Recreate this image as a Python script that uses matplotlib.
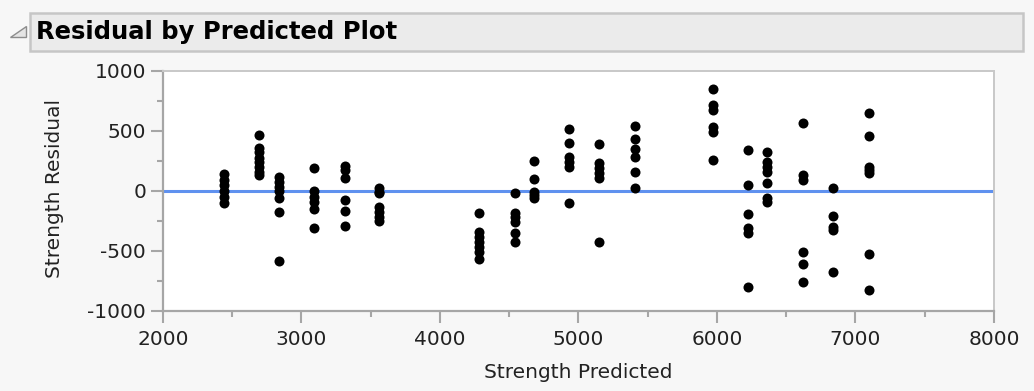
import matplotlib
matplotlib.use('Agg')
import matplotlib.pyplot as plt
from matplotlib.patches import Rectangle, Polygon
from matplotlib.ticker import MultipleLocator

plt.rcParams['font.family'] = ['DejaVu Sans']
plt.rcParams['axes.unicode_minus'] = False

# predicted strength levels and the residuals observed at each level
pred_levels = [2442, 2690, 2834, 3087, 3316, 3563, 4283, 4538, 4680,
               4933, 5151, 5409, 5970, 6227, 6364, 6619, 6840, 7097]
resid_groups = [
    [140, 92, 50, 0, -47, -97],
    [467, 356, 328, 272, 244, 203, 161, 133],
    [119, 78, 36, 0, -61, -178, -581],
    [194, 0, -47, -89, -153, -306],
    [208, 175, 106, -75, -167, -292],
    [22, -6, -19, -131, -172, -214, -250],
    [-181, -339, -381, -422, -464, -506, -569],
    [-14, -186, -214, -256, -347, -422],
    [253, 97, -6, -33, -61],
    [514, 403, 286, 240, 203, -103],
    [392, 231, 189, 147, 106, -428],
    [542, 431, 347, 286, 161, 22],
    [847, 717, 675, 536, 494, 258],
    [342, 50, -192, -311, -353, -797],
    [328, 244, 203, 161, 64, -61, -89],
    [564, 133, 92, -506, -611, -761],
    [28, -208, -297, -325, -678],
    [647, 458, 203, 175, 147, -525, -825],
]

x_vals = [p for p, g in zip(pred_levels, resid_groups) for _ in g]
y_vals = [r for g in resid_groups for r in g]

bg = '#F7F7F7'
axis_grey = '#A6A6A6'
text_col = '#222222'
W, H = 1034, 391

fig = plt.figure(figsize=(W / 100, H / 100), dpi=100, facecolor=bg)

# outline header bar with disclosure triangle
fig.patches.append(Rectangle((30 / W, 1 - 50.5 / H), 993 / W, 38 / H,
                             transform=fig.transFigure, facecolor='#EBEBEB',
                             edgecolor='#C6C6C6', linewidth=1.8, zorder=0))
fig.patches.append(Polygon([(10 / W, 1 - 37 / H), (26 / W, 1 - 37 / H),
                            (26 / W, 1 - 26 / H)], closed=True,
                           transform=fig.transFigure, facecolor='#E4E4E4',
                           edgecolor='#8C8C8C', linewidth=1.0))
fig.text(36 / W, 1 - 32 / H, 'Residual by Predicted Plot', fontsize=17.5,
         fontweight='bold', ha='left', va='center', color='black')

ax = fig.add_axes([163 / W, 1 - 311 / H, 831 / W, 240 / H])
ax.set_facecolor('white')

ax.axhline(0, color='#5F91EF', linewidth=2.2, zorder=1)
ax.scatter(x_vals, y_vals, s=52, color='black', zorder=3, linewidths=0)

ax.set_xlim(2000, 8000)
ax.set_ylim(-1000, 1000)
ax.xaxis.set_major_locator(MultipleLocator(1000))
ax.xaxis.set_minor_locator(MultipleLocator(500))
ax.yaxis.set_major_locator(MultipleLocator(500))
ax.yaxis.set_minor_locator(MultipleLocator(250))

for side in ['left', 'bottom']:
    ax.spines[side].set_color(axis_grey)
    ax.spines[side].set_linewidth(1.6)
for side in ['top', 'right']:
    ax.spines[side].set_color('#C8C8C8')
    ax.spines[side].set_linewidth(1.4)

ax.tick_params(which='major', length=8.6, width=1.5, color=axis_grey,
               labelsize=14.5, labelcolor=text_col)
ax.tick_params(which='minor', length=4.6, width=1.5, color=axis_grey)
ax.tick_params(axis='x', which='major', pad=5)
ax.tick_params(axis='y', which='major', pad=3.5)

ax.set_xlabel('Strength Predicted', fontsize=14.5, color=text_col)
ax.set_ylabel('Strength Residual', fontsize=14.5, color=text_col)
ax.xaxis.set_label_coords(0.5, (311 - 372) / 240)
ax.xaxis.label.set_va('center')
ax.yaxis.set_label_coords((55 - 163) / 831, (311 - 188) / 240)
ax.yaxis.label.set_va('center')

fig.savefig('out.png', dpi=100, facecolor=bg)
